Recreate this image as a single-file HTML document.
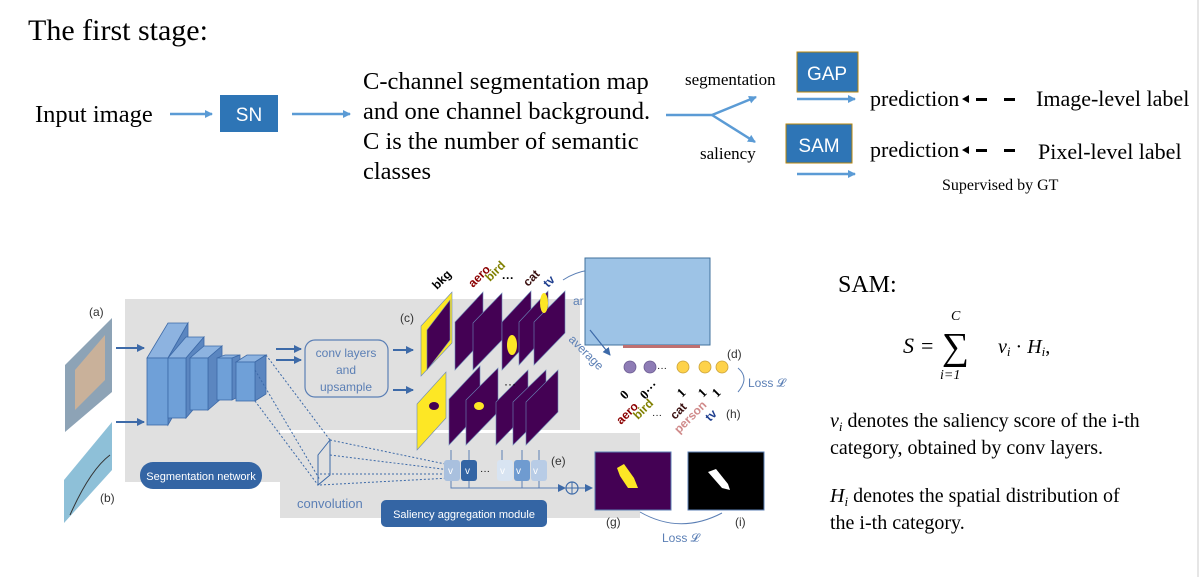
<!DOCTYPE html>
<html><head><meta charset="utf-8"><style>
html,body{margin:0;padding:0;background:#fff;width:1201px;height:577px;overflow:hidden}
svg{display:block}
.s{font-family:"Liberation Serif",serif;fill:#000}
.a{font-family:"Liberation Sans",sans-serif}
</style></head><body>
<svg width="1201" height="577" viewBox="0 0 1201 577" xmlns="http://www.w3.org/2000/svg">
<defs>
<marker id="ar" markerWidth="8" markerHeight="8" refX="7" refY="4" orient="auto" markerUnits="userSpaceOnUse"><path d="M0,0 L8,4 L0,8 Z" fill="#5b9bd5"/></marker>
<marker id="ad" markerWidth="8" markerHeight="8" refX="7" refY="4" orient="auto" markerUnits="userSpaceOnUse"><path d="M0,0 L8,4 L0,8 Z" fill="#3d6aa8"/></marker>
</defs>
<line x1="1198" y1="0" x2="1198" y2="577" stroke="#ccc"/>
<text class="s" x="28" y="40" font-size="30">The first stage:</text>
<text class="s" x="35" y="122" font-size="24.5">Input image</text>
<line x1="170" y1="114" x2="212" y2="114" stroke="#5b9bd5" stroke-width="2.5" marker-end="url(#ar)"/>
<rect x="220" y="95" width="58" height="37" fill="#2e75b6"/>
<text class="a" x="249" y="121" font-size="19" fill="#fff" text-anchor="middle">SN</text>
<line x1="292" y1="114" x2="350" y2="114" stroke="#5b9bd5" stroke-width="2.5" marker-end="url(#ar)"/>
<text class="s" font-size="24.5"><tspan x="363" y="89">C-channel segmentation map</tspan><tspan x="363" y="119">and one channel background.</tspan><tspan x="363" y="149">C is the number of semantic</tspan><tspan x="363" y="179">classes</tspan></text>
<path d="M666,115 L712,115 L756,97" fill="none" stroke="#5b9bd5" stroke-width="2.5" marker-end="url(#ar)"/>
<line x1="712" y1="115" x2="755" y2="142" stroke="#5b9bd5" stroke-width="2.5" marker-end="url(#ar)"/>
<text class="s" x="685" y="85" font-size="17">segmentation</text>
<text class="s" x="700" y="159" font-size="17">saliency</text>
<rect x="797" y="52" width="61" height="40" fill="#2e75b6" stroke="#b8860b"/>
<text class="a" x="827" y="80" font-size="19" fill="#fff" text-anchor="middle">GAP</text>
<line x1="797" y1="99" x2="855" y2="99" stroke="#5b9bd5" stroke-width="2.5" marker-end="url(#ar)"/>
<rect x="786" y="124" width="66" height="39" fill="#2e75b6" stroke="#b8860b"/>
<text class="a" x="819" y="152" font-size="19" fill="#fff" text-anchor="middle">SAM</text>
<line x1="797" y1="174" x2="855" y2="174" stroke="#5b9bd5" stroke-width="2.5" marker-end="url(#ar)"/>
<text class="s" x="870" y="106" font-size="22">prediction</text>
<text class="s" x="870" y="157" font-size="22">prediction</text>
<g fill="#000"><path d="M962,99 l7,-4 v8z"/><rect x="976" y="98" width="11" height="3"/><rect x="1004" y="98" width="11" height="3"/>
<path d="M962,150 l7,-4 v8z"/><rect x="976" y="149" width="11" height="3"/><rect x="1004" y="149" width="11" height="3"/></g>
<text class="s" x="1036" y="106" font-size="22">Image-level label</text>
<text class="s" x="1038" y="159" font-size="22">Pixel-level label</text>
<text class="s" x="942" y="190" font-size="16">Supervised by GT</text>

<!-- lower figure -->
<path d="M125,299 H580 V430 H280 V482 H125 Z" fill="#e0e0e0"/>
<rect x="280" y="433" width="360" height="85" fill="#e0e0e0"/>
<polygon points="65,365 112,318 112,392 65,432" fill="#8da3b6"/>
<polygon points="75,370 105,335 105,380 75,410" fill="#c9b19a"/>
<polygon points="64,480 112,422 112,470 64,523" fill="#8ec0d8"/>
<path d="M70,515 Q90,470 110,455" stroke="#333" fill="none"/>
<text class="a" x="89" y="316" font-size="12" fill="#333">(a)</text>
<text class="a" x="100" y="502" font-size="12" fill="#333">(b)</text>
<line x1="116" y1="348" x2="144" y2="348" stroke="#3d6aa8" stroke-width="2" marker-end="url(#ad)"/>
<line x1="116" y1="422" x2="144" y2="422" stroke="#3d6aa8" stroke-width="2" marker-end="url(#ad)"/>
<g stroke="#3d6aa8" stroke-width="0.8">
<polygon points="147,358 168,358 188,323 168,323" fill="#8db3e0"/><polygon points="168,358 188,323 188,390 168,425" fill="#5b86c0"/><rect x="147" y="358" width="21" height="67" fill="#6fa0d8"/>
<polygon points="168,358 186,358 204,337 186,337" fill="#8db3e0"/><polygon points="186,358 204,337 204,397 186,418" fill="#5b86c0"/><rect x="168" y="358" width="18" height="60" fill="#6fa0d8"/>
<polygon points="190,358 208,358 222,346 204,346" fill="#8db3e0"/><polygon points="208,358 222,346 222,398 208,410" fill="#5b86c0"/><rect x="190" y="358" width="18" height="52" fill="#6fa0d8"/>
<polygon points="217,358 232,358 240,355 225,355" fill="#8db3e0"/><polygon points="232,358 240,355 240,396 232,400" fill="#5b86c0"/><rect x="217" y="358" width="15" height="42" fill="#6fa0d8"/>
<polygon points="236,362 255,362 266,355 247,355" fill="#8db3e0"/><polygon points="255,362 266,355 266,394 255,401" fill="#5b86c0"/><rect x="236" y="362" width="19" height="39" fill="#6fa0d8"/>
</g>
<g stroke="#3d6aa8" stroke-dasharray="2,2" fill="none">
<line x1="266" y1="355" x2="330" y2="440"/><line x1="255" y1="370" x2="320" y2="480"/><line x1="255" y1="401" x2="318" y2="485"/>
<line x1="330" y1="440" x2="450" y2="465"/><line x1="330" y1="455" x2="450" y2="470"/><line x1="320" y1="474" x2="450" y2="474"/><line x1="320" y1="485" x2="450" y2="478"/>
</g>
<polygon points="318,455 330,440 330,475 318,485" fill="none" stroke="#3d6aa8"/>
<line x1="276" y1="349" x2="301" y2="349" stroke="#3d6aa8" stroke-width="2" marker-end="url(#ad)"/>
<line x1="276" y1="360" x2="301" y2="360" stroke="#3d6aa8" stroke-width="2" marker-end="url(#ad)"/>
<rect x="305" y="340" width="83" height="57" rx="10" fill="none" stroke="#5b7fb5" stroke-width="1.2"/>
<text class="a" font-size="12" fill="#5b7fb5" text-anchor="middle"><tspan x="346" y="357">conv layers</tspan><tspan x="346" y="374">and</tspan><tspan x="346" y="391">upsample</tspan></text>
<line x1="393" y1="350" x2="413" y2="350" stroke="#3d6aa8" stroke-width="2" marker-end="url(#ad)"/>
<line x1="393" y1="390" x2="413" y2="390" stroke="#3d6aa8" stroke-width="2" marker-end="url(#ad)"/>
<text class="a" x="400" y="322" font-size="12" fill="#333">(c)</text>
<g stroke="#6b88b8" stroke-width="0.6">
<polygon points="421,376 452,343 452,292 421,326" fill="#fde725"/>
<polygon points="427,370 450,340 450,300 427,330" fill="#440154"/>
<polygon points="455,370 483,340 483,292 455,322" fill="#440154"/>
<polygon points="473,370 502,340 502,293 473,323" fill="#440154"/>
<polygon points="502,370 531,339 531,291 502,322" fill="#440154"/>
<polygon points="519,365 548,333 548,291 519,322" fill="#440154"/>
<polygon points="534,365 565,333 565,291 534,322" fill="#440154"/>
<polygon points="417,450 446,418 446,372 417,404" fill="#fde725"/>
<polygon points="449,445 480,412 480,366 449,399" fill="#440154"/>
<polygon points="466,445 498,412 498,368 466,400" fill="#440154"/>
<polygon points="496,445 528,412 528,370 496,402" fill="#440154"/>
<polygon points="513,445 546,412 546,370 513,402" fill="#440154"/>
<polygon points="526,445 558,412 558,370 526,402" fill="#440154"/>
</g>
<ellipse cx="512" cy="345" rx="5" ry="10" fill="#fde725"/><ellipse cx="434" cy="406" rx="5" ry="4" fill="#440154"/><ellipse cx="479" cy="406" rx="5" ry="4" fill="#fde725"/>
<ellipse cx="544" cy="303" rx="4" ry="10" fill="#fde725"/>
<text class="a" font-size="12" font-weight="bold" transform="translate(437,290) rotate(-45)" fill="#000">bkg</text>
<text class="a" font-size="12" font-weight="bold" transform="translate(473,288) rotate(-45)" fill="#8b0000">aero</text>
<text class="a" font-size="12" font-weight="bold" transform="translate(490,282) rotate(-45)" fill="#808000">bird</text>
<text class="a" x="502" y="282" font-size="12" font-weight="bold">···</text>
<text class="a" font-size="12" font-weight="bold" transform="translate(528,287) rotate(-45)" fill="#3a1010">cat</text>
<text class="a" font-size="12" font-weight="bold" transform="translate(548,288) rotate(-45)" fill="#1f3f8f">tv</text>
<text class="a" x="504" y="388" font-size="12">···</text>
<text class="a" x="573" y="305" font-size="12" fill="#5b7fb5">ar</text>
<path d="M563,280 Q575,272 590,270" stroke="#5b7fb5" fill="none"/>
<rect x="585" y="258" width="125" height="87" fill="#9dc3e6" stroke="#41719c"/>
<rect x="623" y="345" width="77" height="3" fill="#c07070"/>
<text class="a" font-size="12" fill="#5b7fb5" transform="translate(568,340) rotate(45)">average</text>
<line x1="590" y1="330" x2="610" y2="355" stroke="#3d6aa8" stroke-width="1.2" marker-end="url(#ad)"/>
<g stroke="#c9a13a" stroke-width="0.8"><circle cx="630" cy="367" r="6" fill="#8e7cb5" stroke="#6a5a90"/><circle cx="650" cy="367" r="6" fill="#8e7cb5" stroke="#6a5a90"/><circle cx="683" cy="367" r="6" fill="#fed24a"/><circle cx="705" cy="367" r="6" fill="#fed24a"/><circle cx="722" cy="367" r="6" fill="#fed24a"/></g>
<text class="a" x="657" y="371" font-size="10">···</text>
<text class="a" x="727" y="358" font-size="12" fill="#333">(d)</text>
<path d="M738,368 Q750,378 738,392" stroke="#5b7fb5" fill="none"/>
<text class="a" x="748" y="387" font-size="12" fill="#5b7fb5">Loss 𝓛</text>
<text class="s" font-size="13" font-weight="bold" transform="translate(625,400) rotate(-45)">0</text>
<text class="s" font-size="13" font-weight="bold" transform="translate(645,400) rotate(-45)">0···</text>
<text class="s" font-size="13" font-weight="bold" transform="translate(682,398) rotate(-45)">1</text>
<text class="s" font-size="13" font-weight="bold" transform="translate(703,398) rotate(-45)">1</text>
<text class="s" font-size="13" font-weight="bold" transform="translate(717,398) rotate(-45)">1</text>
<text class="a" font-size="12" font-weight="bold" fill="#8b0000" transform="translate(621,425) rotate(-45)">aero</text>
<text class="a" font-size="12" font-weight="bold" fill="#808000" transform="translate(638,420) rotate(-45)">bird</text>
<text class="a" x="652" y="418" font-size="10">···</text>
<text class="a" font-size="12" font-weight="bold" fill="#3a1010" transform="translate(675,420) rotate(-45)">cat</text>
<text class="a" font-size="12" font-weight="bold" fill="#d08a8a" transform="translate(679,434) rotate(-45)">person</text>
<text class="a" font-size="12" font-weight="bold" fill="#1f3f8f" transform="translate(710,422) rotate(-45)">tv</text>
<text class="a" x="726" y="418" font-size="12" fill="#333">(h)</text>
<g stroke="#5b7fb5" fill="none"><line x1="451" y1="450" x2="451" y2="460"/><line x1="469" y1="450" x2="469" y2="460"/><line x1="502" y1="450" x2="502" y2="460"/><line x1="522" y1="450" x2="522" y2="460"/><line x1="539" y1="450" x2="539" y2="460"/>
<path d="M451,480 V488 H558"/><line x1="469" y1="480" x2="469" y2="488"/><line x1="522" y1="480" x2="522" y2="488"/><line x1="539" y1="480" x2="539" y2="488"/></g>
<rect x="444" y="460" width="16" height="21" rx="3" fill="#a9c0de"/><rect x="461" y="460" width="16" height="21" rx="3" fill="#3465a4"/>
<rect x="497" y="460" width="16" height="21" rx="3" fill="#d8e4f2"/><rect x="514" y="460" width="16" height="21" rx="3" fill="#6f9bd0"/><rect x="531" y="460" width="16" height="21" rx="3" fill="#b8cce6"/>
<g class="a" font-size="10" fill="#fff"><text x="448" y="474">v</text><text x="465" y="474">v</text><text x="500" y="474">v</text><text x="516" y="474">v</text><text x="533" y="474">v</text></g>
<text class="a" x="480" y="474" font-size="10">···</text>
<text class="a" x="551" y="465" font-size="12" fill="#333">(e)</text>
<line x1="558" y1="488" x2="565" y2="488" stroke="#3d6aa8" marker-end="url(#ad)"/>
<circle cx="572" cy="488" r="6" fill="none" stroke="#3d6aa8" stroke-width="1.2"/><line x1="566" y1="488" x2="578" y2="488" stroke="#3d6aa8"/><line x1="572" y1="482" x2="572" y2="494" stroke="#3d6aa8"/>
<line x1="578" y1="488" x2="592" y2="488" stroke="#3d6aa8" marker-end="url(#ad)"/>
<rect x="595" y="452" width="76" height="58" fill="#440154" stroke="#5b7fb5"/>
<polygon points="617,468 624,464 634,478 638,488 628,488 620,476" fill="#fde725"/>
<rect x="688" y="452" width="76" height="58" fill="#000" stroke="#5b7fb5"/>
<polygon points="708,472 716,469 728,484 730,490 722,488" fill="#fff"/>
<text class="a" x="606" y="526" font-size="12" fill="#333">(g)</text>
<text class="a" x="735" y="526" font-size="12" fill="#333">(i)</text>
<path d="M640,512 Q680,535 722,513" stroke="#5b7fb5" fill="none"/>
<text class="a" x="662" y="542" font-size="12" fill="#5b7fb5">Loss 𝓛</text>
<rect x="140" y="462" width="122" height="27" rx="13" fill="#3465a4"/>
<text class="a" x="201" y="480" font-size="11" fill="#fff" text-anchor="middle">Segmentation network</text>
<text class="a" x="297" y="508" font-size="13" fill="#5b7fb5">convolution</text>
<rect x="381" y="500" width="166" height="27" rx="5" fill="#3465a4"/>
<text class="a" x="464" y="518" font-size="11" fill="#fff" text-anchor="middle">Saliency aggregation module</text>
<text class="s" x="838" y="292" font-size="24">SAM:</text>
<text class="s" x="903" y="353" font-size="22" font-style="italic">S</text>
<text class="s" x="921" y="353" font-size="22">=</text>
<text class="s" x="942" y="359" font-size="38">∑</text>
<text class="s" x="951" y="320" font-size="14" font-style="italic">C</text>
<text class="s" x="940" y="379" font-size="14" font-style="italic">i=1</text>
<text class="s" x="998" y="353" font-size="20" font-style="italic">v<tspan font-size="13" dy="3">i</tspan><tspan dy="-3" font-style="normal"> · </tspan>H<tspan font-size="13" dy="3">i</tspan><tspan dy="-3" font-style="normal">,</tspan></text>
<text class="s" font-size="20"><tspan x="830" y="427"><tspan font-style="italic">v<tspan font-size="13" dy="4">i</tspan></tspan><tspan dy="-4"> denotes the saliency score of the i-th</tspan></tspan><tspan x="830" y="454">category, obtained by conv layers.</tspan></text>
<text class="s" font-size="20"><tspan x="830" y="502"><tspan font-style="italic">H<tspan font-size="13" dy="4">i</tspan></tspan><tspan dy="-4"> denotes the spatial distribution of</tspan></tspan><tspan x="830" y="529">the i-th category.</tspan></text>
</svg>
</body></html>
